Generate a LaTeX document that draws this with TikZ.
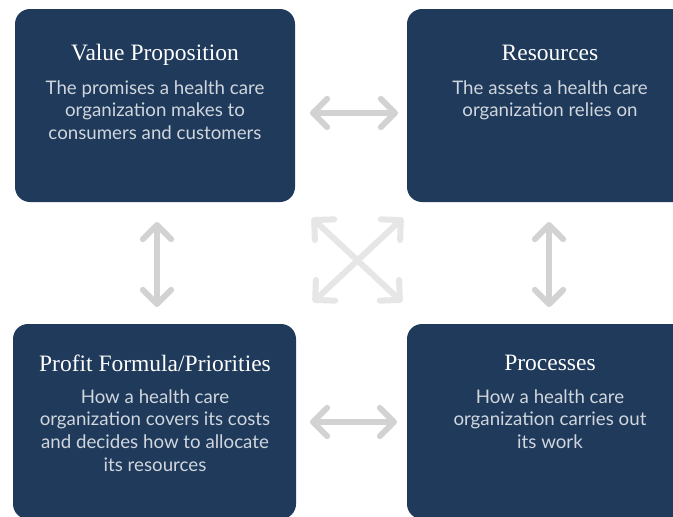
\documentclass[tikz,border=0pt]{standalone}
\usepackage{fontspec}
\setmainfont{Liberation Serif}
\newfontfamily\bodyfont{Lato}
\usetikzlibrary{arrows.meta}
\definecolor{navy}{HTML}{1F3A5A}
\definecolor{bodytxt}{HTML}{D0D6DE}
\definecolor{arrowgray}{HTML}{D2D2D2}
\definecolor{diaggray}{HTML}{E6E6E6}
\newcommand{\lines}[1]{\begin{tabular}[t]{@{}c@{}}#1\end{tabular}}
\begin{document}
\begin{tikzpicture}[x=1pt,y=-1pt,
  card/.style={fill=navy, rounded corners=15pt, draw=none, inner sep=0pt},
  ttl/.style={anchor=base, text=white, font=\fontsize{23.5}{27}\selectfont, inner sep=0pt},
  bodytext/.style={anchor=base, text=bodytxt, font=\bodyfont\fontsize{18.7}{22.8}\selectfont, inner sep=0pt},
  link/.style={arrowgray, line width=6pt, {Straight Barb[angle=90:20pt,round]}-{Straight Barb[angle=90:20pt,round]}},
  diag/.style={diaggray, line width=6pt, {Straight Barb[angle=90:20pt,round]}-{Straight Barb[angle=90:20pt,round]}},
]
\useasboundingbox (0,0) rectangle (673,517);
\fill[white] (0,0) rectangle (673,517);

% cards
\node[card, minimum width=280pt, minimum height=193pt] (vp) at (155,105.5) {};
\node[card, minimum width=286pt, minimum height=193pt] (rs) at (550,105.5) {};
\node[card, minimum width=283pt, minimum height=195pt] (pf) at (154.5,421.5) {};
\node[card, minimum width=286pt, minimum height=195pt] (pr) at (550,421.5) {};

% texts
\node[ttl] (vpt) at (155,60) {Value Proposition};
\node[bodytext] (vpb) at (155,94) {\lines{The promises a health care\\organization makes to\\consumers and customers}};
\node[ttl] (rst) at (550,60) {Resources};
\node[bodytext] (rsb) at (550,94) {\lines{The assets a health care\\organization relies on}};
\node[ttl] (pft) at (155,371) {Profit Formula/Priorities};
\node[bodytext] (pfb) at (155,403) {\lines{How a health care\\organization covers its costs\\and decides how to allocate\\its resources}};
\node[ttl] (prt) at (550,370) {Processes};
\node[bodytext] (prb) at (550,403) {\lines{How a health care\\organization carries out\\its work}};

% arrows
\coordinate (h1a) at (310,113); \coordinate (h1b) at (398,113);
\coordinate (h2a) at (310,422); \coordinate (h2b) at (397,422);
\coordinate (v1a) at (157,222); \coordinate (v1b) at (157,307);
\coordinate (v2a) at (549,222); \coordinate (v2b) at (549,307);
\coordinate (d1a) at (312,218); \coordinate (d1b) at (402,302);
\coordinate (d2a) at (403,218); \coordinate (d2b) at (313,302);
\draw[diag] (d1a) -- (d1b);
\draw[diag] (d2a) -- (d2b);
\draw[link] (h1a) -- (h1b);
\draw[link] (h2a) -- (h2b);
\draw[link] (v1a) -- (v1b);
\draw[link] (v2a) -- (v2b);
\end{tikzpicture}
\end{document}
